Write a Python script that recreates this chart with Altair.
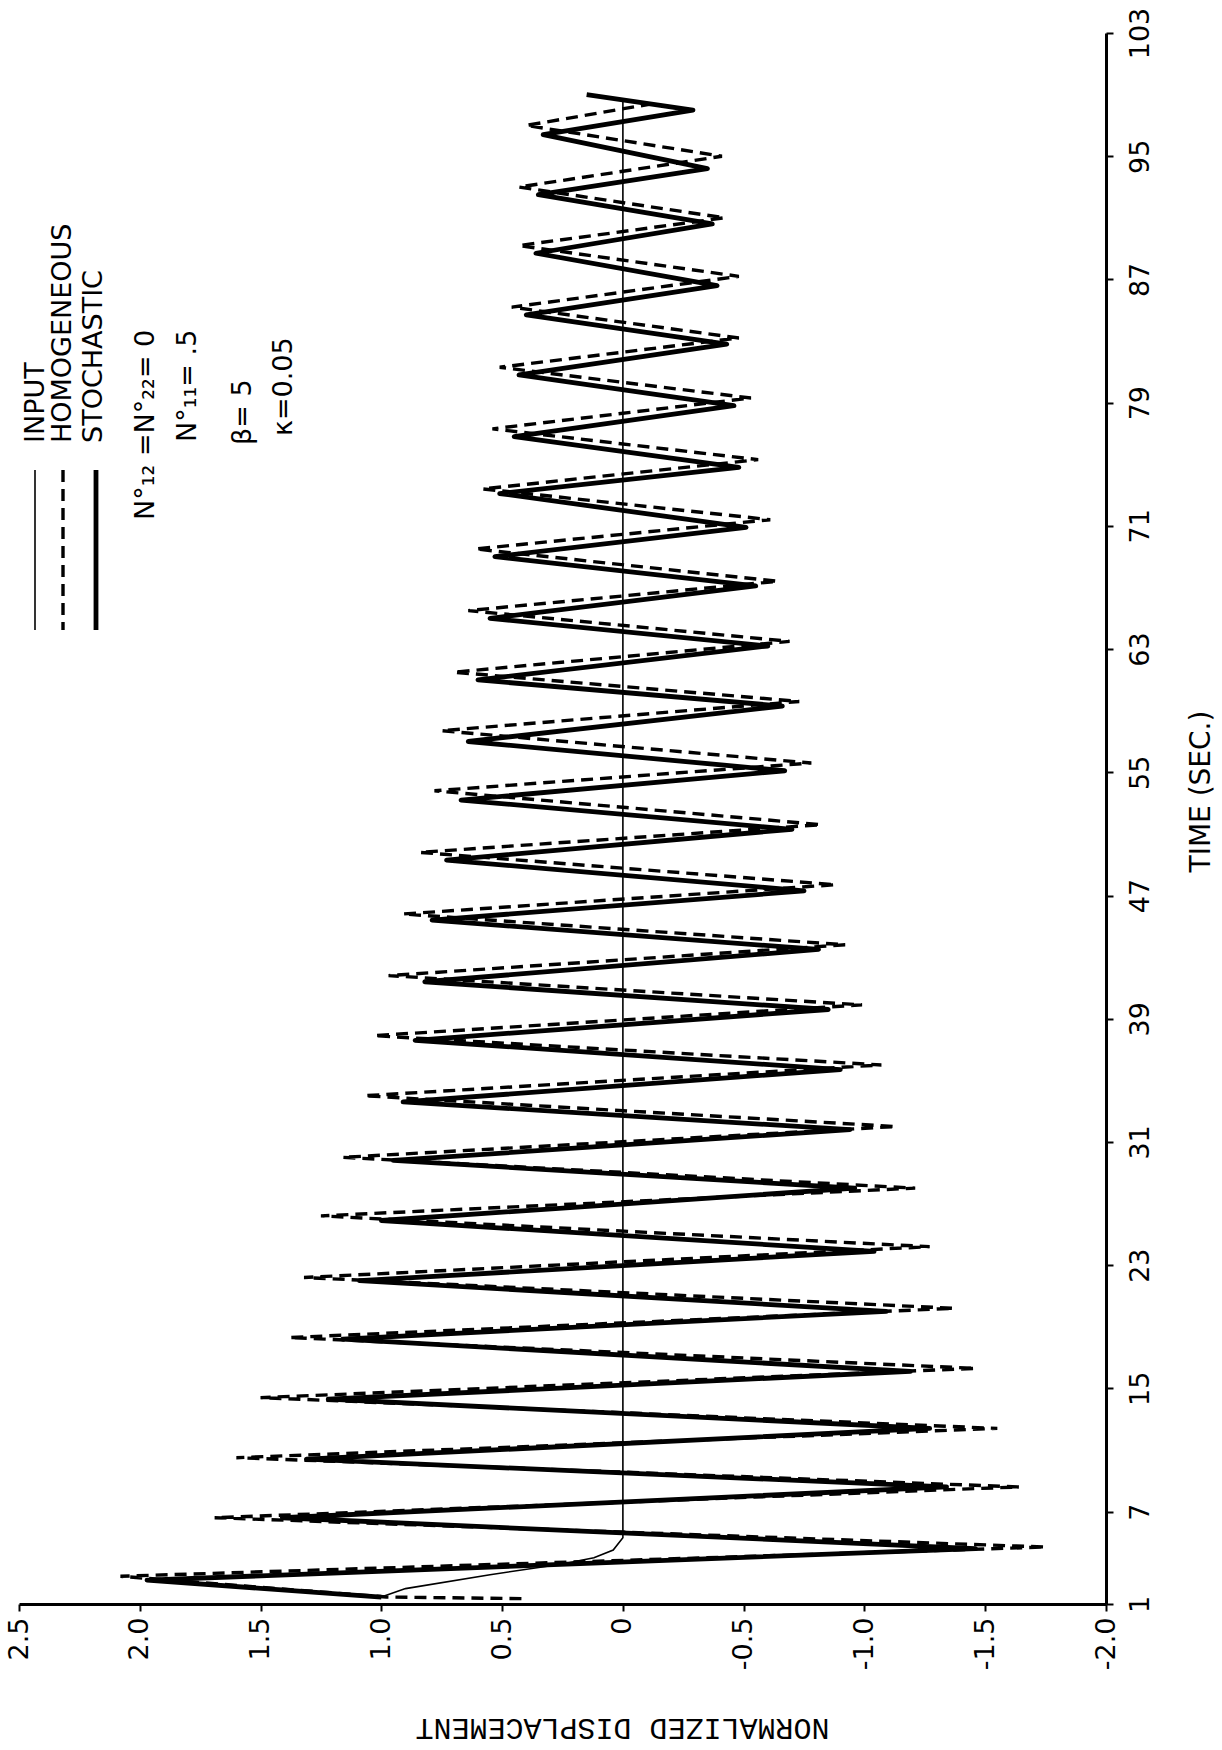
import altair as alt
import pandas as pd

# ---- data ----
stoch_t = [1.45, 2.55, 4.6, 6.6, 8.6, 10.4, 12.4, 14.3, 16.1, 18.2, 20.0, 22.0, 23.9, 25.9,
           28.0, 29.8, 31.8, 33.6, 35.7, 37.6, 39.6, 41.4, 43.5, 45.4, 47.3, 49.3, 51.3, 53.2,
           55.1, 57.0, 59.3, 61.0, 63.2, 65.0, 67.1, 69.0, 70.9, 73.1, 74.8, 76.8, 78.8, 80.8,
           82.8, 84.7, 86.6, 88.7, 90.6, 92.5, 94.2, 96.4, 98.0, 99.0]
stoch_v = [1.00, 1.97, -1.46, 1.41, -1.34, 1.31, -1.27, 1.22, -1.19, 1.16, -1.09, 1.09, -1.04, 1.00,
           -0.96, 0.95, -0.94, 0.91, -0.90, 0.86, -0.85, 0.82, -0.81, 0.79, -0.75, 0.73, -0.70, 0.67,
           -0.67, 0.64, -0.66, 0.60, -0.60, 0.55, -0.55, 0.53, -0.51, 0.51, -0.48, 0.45, -0.46, 0.43,
           -0.43, 0.40, -0.39, 0.36, -0.37, 0.35, -0.35, 0.33, -0.29, 0.15]

homo_t = [1.35, 1.45, 2.8, 4.7, 6.6, 8.6, 10.5, 12.4, 14.4, 16.3, 18.3, 20.2, 22.2, 24.2, 26.2,
          28.0, 30.0, 32.0, 34.0, 36.0, 37.9, 39.9, 41.8, 43.8, 45.8, 47.7, 49.8, 51.6, 53.8,
          55.6, 57.7, 59.6, 61.5, 63.5, 65.5, 67.4, 69.5, 71.4, 73.4, 75.3, 77.3, 79.3, 81.3,
          83.2, 85.2, 87.2, 89.2, 91.0, 93.0, 95.0, 97.0, 98.4]
homo_v = [0.42, 0.98, 2.08, -1.75, 1.69, -1.64, 1.60, -1.55, 1.50, -1.46, 1.38, -1.37, 1.32, -1.27, 1.25,
          -1.21, 1.16, -1.13, 1.07, -1.07, 1.03, -0.99, 0.97, -0.92, 0.91, -0.88, 0.84, -0.82, 0.78,
          -0.78, 0.75, -0.73, 0.70, -0.69, 0.64, -0.64, 0.61, -0.61, 0.58, -0.56, 0.54, -0.53, 0.51,
          -0.48, 0.46, -0.48, 0.43, -0.42, 0.43, -0.41, 0.40, -0.12]

input_t = [1.45, 2.0, 2.9, 3.6, 4.0, 4.5, 5.3, 98.7]
input_v = [1.00, 0.90, 0.55, 0.25, 0.12, 0.04, 0.0, 0.0]

disp_ticks = [2.5, 2.0, 1.5, 1.0, 0.5, 0.0, -0.5, -1.0, -1.5, -2.0]
time_ticks = [1, 7, 15, 23, 31, 39, 47, 55, 63, 71, 79, 87, 95, 103]

legend_labels = ["INPUT", "HOMOGENEOUS", "STOCHASTIC"]
param_labels = ["N°₁₂ =N°₂₂= 0", "N°₁₁= .5", "β= 5", "κ=0.05"]

# ---- tables ----
stoch_df = pd.DataFrame({"t": stoch_t, "v": stoch_v})
homo_df = pd.DataFrame({"t": homo_t, "v": homo_v})
input_df = pd.DataFrame({"t": input_t, "v": input_v})
one = pd.DataFrame({"k": [0]})

W, H = 1087, 1571
LABEL_FONT = "DejaVu Sans"

x_scale = alt.Scale(domain=[-2.0, 2.5], reverse=True, nice=False, zero=False)
y_scale = alt.Scale(domain=[1, 103], nice=False, zero=False)

x_axis = alt.Axis(
    orient="bottom", values=disp_ticks, grid=False,
    labelAngle=270, labelAlign="right", labelBaseline="middle",
    labelExpr="datum.value == 0 ? '0' : (datum.value < 0 ? '-' : '') + format(abs(datum.value), '.1f')",
    labelFont=LABEL_FONT, labelFontSize=27, labelColor="black", labelPadding=6,
    labelFlush=False, labelOverlap=False,
    domainColor="black", domainWidth=3, tickColor="black", tickWidth=2, tickSize=7,
    title="NORMALIZED DISPLACEMENT", titleAngle=180, titleX=603, titleY=123,
    titleAlign="center", titleBaseline="middle", titleFont="Liberation Mono",
    titleFontSize=30, titleFontWeight="normal", titleColor="black",
)
y_axis = alt.Axis(
    orient="right", values=time_ticks, grid=False,
    labelAngle=270, labelAlign="center", labelBaseline="top",
    labelFont=LABEL_FONT, labelFontSize=27, labelColor="black", labelPadding=14,
    labelFlush=False, labelOverlap=False,
    domainColor="black", domainWidth=3, tickColor="black", tickWidth=2, tickSize=7,
    title="TIME (SEC.)", titleAngle=270, titleX=95, titleY=758,
    titleAlign="center", titleBaseline="middle", titleFont=LABEL_FONT,
    titleFontSize=28, titleFontWeight="normal", titleColor="black",
)

enc_x = alt.X("v:Q", scale=x_scale, axis=x_axis)
enc_y = alt.Y("t:Q", scale=y_scale, axis=y_axis)

input_line = alt.Chart(input_df).mark_line(color="black", strokeWidth=1.6).encode(
    x=enc_x, y=enc_y, order="t:Q")
homo_line = alt.Chart(homo_df).mark_line(color="black", strokeWidth=3.4, strokeDash=[12, 7]).encode(
    x="v:Q", y="t:Q", order="t:Q")
stoch_line = alt.Chart(stoch_df).mark_line(color="black", strokeWidth=4.8, strokeJoin="round").encode(
    x="v:Q", y="t:Q", order="t:Q")

# ---- legend (rotated, top-left) ----
leg_thin = alt.Chart(one).mark_rule(color="black", strokeWidth=1.6).encode(
    x=alt.value(16), y=alt.value(437), y2=alt.value(597))
leg_dash = alt.Chart(one).mark_rule(color="black", strokeWidth=3.4, strokeDash=[12, 7]).encode(
    x=alt.value(44), y=alt.value(437), y2=alt.value(597))
leg_thick = alt.Chart(one).mark_rule(color="black", strokeWidth=4.8).encode(
    x=alt.value(77), y=alt.value(437), y2=alt.value(597))

def rot_text(txt, x, y, size=27):
    return alt.Chart(one).mark_text(angle=270, align="left", baseline="middle",
                                    font=LABEL_FONT, fontSize=size, color="black").encode(
        x=alt.value(x), y=alt.value(y), text=alt.value(txt))

legend_texts = [
    rot_text(legend_labels[0], 17, 410),
    rot_text(legend_labels[1], 44, 410),
    rot_text(legend_labels[2], 75, 410),
    rot_text(param_labels[0], 127, 487),
    rot_text(param_labels[1], 169, 409),
    rot_text(param_labels[2], 224, 412),
    rot_text(param_labels[3], 265, 403),
]

chart = alt.layer(input_line, homo_line, stoch_line, leg_thin, leg_dash, leg_thick, *legend_texts).properties(
    width=W, height=H,
    autosize=alt.AutoSizeParams(type="none"),
    padding={"left": 19, "top": 33, "right": 116, "bottom": 146},
    background="white",
).configure_view(stroke=None)

chart.save("out.html", embed_options={"renderer": "svg", "actions": False})
